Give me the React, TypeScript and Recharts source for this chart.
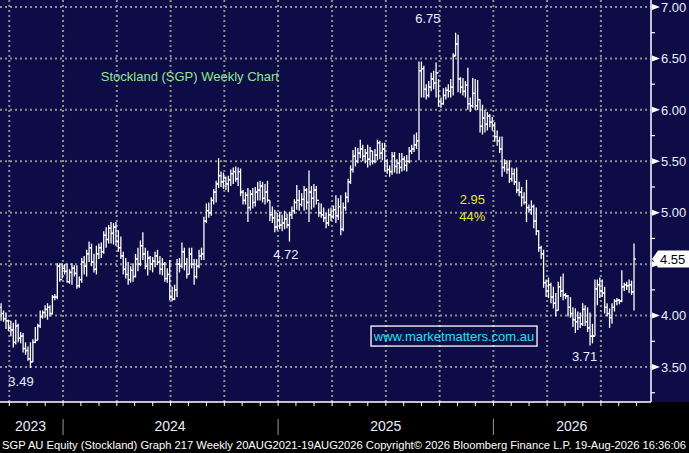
import { ComposedChart, Bar, XAxis, YAxis, CartesianGrid, ReferenceDot } from "recharts";

/* ── weekly OHLC (left → right) ── */
const OPEN = [
  4.08, 4.02, 3.97, 3.95, 3.88, 3.86, 3.74, 3.90, 3.78, 3.80,
  3.68, 3.66, 3.58, 3.55, 3.74, 3.76, 3.90, 3.99, 4.03, 4.06,
  4.08, 4.02, 4.18, 4.18, 4.48, 4.35, 4.46, 4.43, 4.33, 4.42,
  4.46, 4.41, 4.29, 4.35, 4.52, 4.48, 4.60, 4.66, 4.52, 4.45,
  4.60, 4.66, 4.62, 4.78, 4.74, 4.85, 4.80, 4.86, 4.72, 4.66,
  4.58, 4.45, 4.40, 4.35, 4.44, 4.38, 4.55, 4.50, 4.68, 4.60,
  4.48, 4.56, 4.50, 4.53, 4.58, 4.52, 4.45, 4.50, 4.36, 4.40,
  4.18, 4.16, 4.25, 4.50, 4.48, 4.62, 4.50, 4.40, 4.60, 4.50,
  4.38, 4.48, 4.58, 4.60, 4.92, 5.02, 5.00, 5.12, 5.20, 5.28,
  5.36, 5.30, 5.34, 5.28, 5.32, 5.38, 5.40, 5.33, 5.40, 5.20,
  5.12, 5.17, 5.05, 5.18, 5.10, 5.20, 5.22, 5.26, 5.14, 5.20,
  5.12, 4.98, 4.95, 4.86, 4.93, 4.88, 4.90, 4.94, 4.88, 4.98,
  5.02, 5.10, 5.12, 5.08, 5.13, 5.22, 5.10, 5.20, 5.14, 5.22,
  5.12, 5.00, 4.98, 4.95, 4.90, 4.98, 4.96, 5.03, 4.97, 5.06,
  4.84, 5.05, 5.15, 5.30, 5.42, 5.55, 5.50, 5.58, 5.62, 5.55,
  5.58, 5.52, 5.60, 5.50, 5.56, 5.68, 5.58, 5.62, 5.50, 5.42,
  5.40, 5.55, 5.45, 5.48, 5.44, 5.52, 5.46, 5.50, 5.60, 5.62,
  5.66, 5.70, 6.38, 6.40, 6.20, 6.14, 6.22, 6.30, 6.26, 6.36,
  6.08, 6.06, 6.14, 6.19, 6.18, 6.22, 6.53, 6.64, 6.30, 6.22,
  6.18, 6.24, 6.06, 6.04, 6.16, 6.04, 6.10, 5.84, 5.92, 5.86,
  5.94, 5.88, 5.85, 5.74, 5.70, 5.62, 5.44, 5.48, 5.42, 5.33,
  5.38, 5.30, 5.22, 5.20, 5.15, 5.10, 5.05, 5.03, 5.06, 4.92,
  4.82, 4.66, 4.60, 4.32, 4.24, 4.30, 4.18, 4.12, 4.05, 4.28,
  4.24, 4.20, 4.19, 4.08, 4.02, 3.96, 3.94, 3.98, 3.92, 4.06,
  3.94, 3.88, 3.80, 3.80, 4.26, 4.30, 4.24, 4.22, 4.08, 4.02,
  3.98, 4.08, 4.14, 4.15, 4.14, 4.28, 4.30, 4.29, 4.30, 4.23,
];

const HIGH = [
  4.12, 4.05, 4.03, 3.96, 3.95, 3.93, 3.96, 3.92, 3.84, 3.83,
  3.74, 3.70, 3.74, 3.77, 3.89, 3.92, 4.05, 4.05, 4.10, 4.12,
  4.10, 4.20, 4.21, 4.51, 4.51, 4.51, 4.50, 4.51, 4.45, 4.51,
  4.49, 4.49, 4.38, 4.56, 4.58, 4.64, 4.72, 4.70, 4.60, 4.68,
  4.70, 4.71, 4.82, 4.86, 4.88, 4.91, 4.90, 4.91, 4.83, 4.77,
  4.62, 4.56, 4.52, 4.48, 4.51, 4.60, 4.66, 4.73, 4.81, 4.66,
  4.63, 4.58, 4.57, 4.62, 4.64, 4.58, 4.56, 4.52, 4.46, 4.54,
  4.28, 4.30, 4.55, 4.56, 4.71, 4.66, 4.56, 4.66, 4.66, 4.55,
  4.55, 4.64, 4.66, 4.96, 5.09, 5.10, 5.15, 5.23, 5.31, 5.53,
  5.40, 5.39, 5.35, 5.36, 5.42, 5.44, 5.45, 5.44, 5.43, 5.22,
  5.20, 5.24, 5.22, 5.24, 5.25, 5.30, 5.31, 5.30, 5.28, 5.31,
  5.12, 5.06, 5.03, 5.00, 5.01, 4.98, 5.02, 4.99, 5.01, 5.06,
  5.13, 5.27, 5.22, 5.19, 5.26, 5.24, 5.41, 5.26, 5.28, 5.26,
  5.10, 5.09, 5.05, 5.00, 5.04, 5.05, 5.07, 5.17, 5.14, 5.17,
  5.10, 5.20, 5.33, 5.46, 5.61, 5.64, 5.63, 5.71, 5.66, 5.62,
  5.66, 5.64, 5.60, 5.62, 5.71, 5.70, 5.68, 5.68, 5.52, 5.46,
  5.59, 5.59, 5.52, 5.58, 5.58, 5.55, 5.56, 5.64, 5.66, 5.76,
  5.78, 6.47, 6.47, 6.43, 6.25, 6.28, 6.36, 6.38, 6.46, 6.30,
  6.12, 6.21, 6.22, 6.25, 6.30, 6.55, 6.75, 6.73, 6.32, 6.31,
  6.28, 6.41, 6.12, 6.31, 6.30, 6.29, 6.10, 6.05, 6.00, 5.98,
  5.96, 5.93, 5.88, 5.80, 5.74, 5.74, 5.52, 5.51, 5.51, 5.44,
  5.43, 5.44, 5.30, 5.25, 5.20, 5.32, 5.08, 5.12, 5.08, 5.05,
  4.83, 4.68, 4.64, 4.35, 4.37, 4.32, 4.28, 4.22, 4.33, 4.38,
  4.41, 4.22, 4.20, 4.18, 4.08, 4.07, 4.04, 4.03, 4.12, 4.10,
  4.08, 4.03, 3.92, 4.35, 4.35, 4.37, 4.35, 4.28, 4.12, 4.07,
  4.12, 4.16, 4.17, 4.16, 4.44, 4.32, 4.33, 4.35, 4.34, 4.70,
];

const LOW = [
  3.95, 3.94, 3.87, 3.85, 3.80, 3.69, 3.72, 3.74, 3.73, 3.64,
  3.62, 3.56, 3.49, 3.55, 3.73, 3.76, 3.88, 3.97, 3.98, 3.96,
  3.99, 4.01, 4.15, 4.16, 4.33, 4.36, 4.40, 4.32, 4.31, 4.30,
  4.38, 4.26, 4.27, 4.32, 4.40, 4.38, 4.52, 4.48, 4.42, 4.40,
  4.55, 4.56, 4.60, 4.66, 4.70, 4.70, 4.69, 4.68, 4.62, 4.55,
  4.40, 4.36, 4.30, 4.32, 4.33, 4.37, 4.43, 4.48, 4.54, 4.45,
  4.39, 4.44, 4.42, 4.47, 4.49, 4.40, 4.39, 4.33, 4.32, 4.15,
  4.14, 4.15, 4.18, 4.42, 4.46, 4.44, 4.36, 4.40, 4.46, 4.30,
  4.36, 4.46, 4.54, 4.54, 4.90, 4.95, 4.97, 5.08, 5.10, 5.24,
  5.25, 5.23, 5.22, 5.20, 5.26, 5.28, 5.30, 5.26, 5.16, 5.08,
  5.08, 4.91, 5.02, 5.04, 5.06, 5.12, 5.12, 5.10, 5.08, 5.10,
  4.92, 4.90, 4.81, 4.83, 4.84, 4.82, 4.84, 4.85, 4.72, 4.94,
  4.99, 5.03, 5.02, 5.06, 5.02, 5.03, 4.91, 5.03, 5.05, 5.08,
  4.96, 4.95, 4.91, 4.85, 4.87, 4.92, 4.94, 4.90, 4.93, 4.78,
  4.82, 5.02, 5.10, 5.28, 5.39, 5.45, 5.48, 5.53, 5.50, 5.48,
  5.44, 5.46, 5.47, 5.48, 5.51, 5.52, 5.51, 5.40, 5.38, 5.35,
  5.37, 5.39, 5.38, 5.38, 5.40, 5.41, 5.40, 5.48, 5.57, 5.59,
  5.62, 5.51, 6.12, 6.12, 6.10, 6.12, 6.18, 6.20, 6.12, 6.03,
  6.02, 6.05, 6.10, 6.12, 6.12, 6.14, 6.52, 6.17, 6.16, 6.14,
  6.12, 6.00, 5.98, 6.02, 6.00, 6.00, 5.78, 5.76, 5.78, 5.80,
  5.83, 5.80, 5.69, 5.65, 5.58, 5.35, 5.40, 5.38, 5.29, 5.30,
  5.27, 5.19, 5.16, 5.06, 5.08, 4.91, 5.00, 4.98, 4.85, 4.78,
  4.62, 4.55, 4.27, 4.18, 4.17, 4.12, 4.07, 3.99, 4.05, 4.18,
  4.15, 4.16, 3.99, 3.98, 3.89, 3.83, 3.86, 3.88, 3.90, 3.90,
  3.84, 3.71, 3.73, 3.80, 4.10, 4.17, 4.18, 4.02, 3.99, 3.88,
  3.92, 4.04, 4.10, 4.11, 4.13, 4.24, 4.25, 4.22, 4.20, 4.05,
];

const CLOSE = [
  4.02, 3.97, 3.95, 3.88, 3.86, 3.74, 3.90, 3.78, 3.80, 3.68,
  3.66, 3.58, 3.55, 3.74, 3.76, 3.90, 3.99, 4.03, 4.06, 4.08,
  4.02, 4.18, 4.18, 4.48, 4.35, 4.46, 4.43, 4.33, 4.42, 4.46,
  4.41, 4.29, 4.35, 4.52, 4.48, 4.60, 4.66, 4.52, 4.45, 4.60,
  4.66, 4.62, 4.78, 4.74, 4.85, 4.80, 4.86, 4.72, 4.66, 4.58,
  4.45, 4.40, 4.35, 4.44, 4.38, 4.55, 4.50, 4.68, 4.60, 4.48,
  4.56, 4.50, 4.53, 4.58, 4.52, 4.45, 4.50, 4.36, 4.40, 4.18,
  4.16, 4.25, 4.50, 4.48, 4.62, 4.50, 4.40, 4.60, 4.50, 4.38,
  4.48, 4.58, 4.60, 4.92, 5.02, 5.00, 5.12, 5.20, 5.28, 5.36,
  5.30, 5.34, 5.28, 5.32, 5.38, 5.40, 5.33, 5.40, 5.20, 5.12,
  5.17, 5.05, 5.18, 5.10, 5.20, 5.22, 5.26, 5.14, 5.20, 5.12,
  4.98, 4.95, 4.86, 4.93, 4.88, 4.90, 4.94, 4.88, 4.98, 5.02,
  5.10, 5.12, 5.08, 5.13, 5.22, 5.10, 5.20, 5.14, 5.22, 5.12,
  5.00, 4.98, 4.95, 4.90, 4.98, 4.96, 5.03, 4.97, 5.06, 4.84,
  5.05, 5.15, 5.30, 5.42, 5.55, 5.50, 5.58, 5.62, 5.55, 5.58,
  5.52, 5.60, 5.50, 5.56, 5.68, 5.58, 5.62, 5.50, 5.42, 5.40,
  5.55, 5.45, 5.48, 5.44, 5.52, 5.46, 5.50, 5.60, 5.62, 5.66,
  5.70, 6.38, 6.40, 6.20, 6.14, 6.22, 6.30, 6.26, 6.36, 6.08,
  6.06, 6.14, 6.19, 6.18, 6.22, 6.52, 6.64, 6.30, 6.22, 6.18,
  6.24, 6.06, 6.04, 6.16, 6.04, 6.10, 5.84, 5.92, 5.86, 5.94,
  5.88, 5.85, 5.74, 5.70, 5.62, 5.44, 5.48, 5.42, 5.33, 5.38,
  5.30, 5.22, 5.20, 5.15, 5.10, 5.05, 5.03, 5.06, 4.92, 4.82,
  4.66, 4.60, 4.32, 4.24, 4.30, 4.18, 4.12, 4.05, 4.28, 4.24,
  4.20, 4.19, 4.08, 4.02, 3.96, 3.94, 3.98, 3.92, 4.06, 3.94,
  3.88, 3.80, 3.80, 4.26, 4.30, 4.24, 4.22, 4.08, 4.02, 3.98,
  4.08, 4.14, 4.15, 4.14, 4.28, 4.30, 4.29, 4.30, 4.23, 4.55,
];

const LAST_PRICE = 4.55;

/* ── axes ── */
const PRICE_MAJOR = [3.5, 4.0, 4.5, 5.0, 5.5, 6.0, 6.5, 7.0];
const PRICE_MINOR = [3.25, 3.75, 4.25, 4.75, 5.25, 5.75, 6.25, 6.75];
const X_GRID = [3.3, 25.3, 47.3, 69.3, 91.3, 113.3, 135.4, 157.4, 179.4, 201.4, 223.4, 245.4];
const MONTH_TICKS = [
  3.3, 10.6, 18.0, 25.3, 32.6, 40.0, 47.3, 54.6, 62.0, 69.3, 76.6, 84.0,
  91.3, 98.6, 106.0, 113.3, 120.6, 128.0, 135.4, 142.7, 150.0, 157.4, 164.7, 172.0,
  179.4, 186.7, 194.0, 201.4, 208.7, 216.0, 223.4, 230.7, 238.0, 245.4, 252.7, 260.0,
];
const YEAR_LABELS = ["2023", "2024", "2025", "2026"];
const YEAR_MID = [12.0, 69.1, 157.4, 233.5];
const YEAR_START = [25.3, 113.3, 201.4];

/* ── annotations (data units) ── */
const NOTES = [
  { text: "Stockland (SGP) Weekly Chart", x: 77.2, y: 6.33, color: "#8ee98e" },
  { text: "6.75", x: 174.6, y: 6.893, color: "#e8eeff" },
  { text: "4.72", x: 116.5, y: 4.6, color: "#e8eeff" },
  { text: "3.49", x: 8.1, y: 3.359, color: "#e8eeff" },
  { text: "3.71", x: 238.7, y: 3.607, color: "#e8eeff" },
  { text: "2.95", x: 192.8, y: 5.129, color: "#e6e628" },
  { text: "44%", x: 192.8, y: 4.968, color: "#e6e628" },
];
const SITE = { text: "www.marketmatters.com.au", x: 185.3, y: 3.801 };

const FOOTER =
  "SGP AU Equity (Stockland) Graph 217 Weekly 20AUG2021-19AUG2026 Copyright\u00A9 2026 Bloomberg Finance L.P. 19-Aug-2026 16:36:06";

const NAVY = "#0e0c46";
const FONT = "'Liberation Sans', Arial, sans-serif";

const rows = HIGH.map((h, i) => ({
  i,
  span: [LOW[i], h],
  open: OPEN[i],
  close: CLOSE[i],
}));

function OhlcBar(props: any) {
  const { x, y, width, height, payload } = props;
  if (payload == null || height == null) return null;
  const [lo, hi] = payload.span;
  const top = Math.min(y, y + height);
  const h = Math.abs(height);
  const cx = x + width / 2;
  const at = (v: number) => top + ((hi - v) / (hi - lo)) * h;
  const yo = at(payload.open);
  const yc = at(payload.close);
  return (
    <g stroke="#ffffff" strokeWidth={1.3}>
      <line x1={cx} x2={cx} y1={top} y2={top + h} />
      <line x1={cx - 2} x2={cx} y1={yo} y2={yo} />
      <line x1={cx} x2={cx + 2} y1={yc} y2={yc} />
    </g>
  );
}

function PriceTick(props: any) {
  const { x, y, payload } = props;
  const v = payload.value;
  if (v === LAST_PRICE) {
    return (
      <g>
        <polygon
          points={`${x + 1},${y} ${x + 7},${y - 8.5} ${x + 38},${y - 8.5} ${x + 38},${y + 8.5} ${x + 7},${y + 8.5}`}
          fill="#ffffff"
        />
        <text x={x + 9} y={y} dy="0.36em" fill="#000" fontSize={13} fontFamily={FONT}>
          {v.toFixed(2)}
        </text>
      </g>
    );
  }
  if (PRICE_MAJOR.includes(v)) {
    // the last-price flag covers the label next to it, as in the original
    const hidden = Math.abs(v - LAST_PRICE) < 0.1;
    return (
      <g>
        <polygon points={`${x + 1},${y - 3} ${x + 9},${y} ${x + 1},${y + 3}`} fill="#ffffff" />
        {!hidden && (
          <text x={x + 10} y={y} dy="0.36em" fill="#e8eeff" fontSize={13} fontFamily={FONT}>
            {v.toFixed(2)}
          </text>
        )}
      </g>
    );
  }
  return <line x1={x} x2={x + 4} y1={y} y2={y} stroke="#ffffff" strokeWidth={1.2} />;
}

function YearTick(props: any) {
  const { x, y, payload } = props;
  const v = payload.value;
  const k = YEAR_MID.indexOf(v);
  if (k >= 0) {
    return (
      <text x={x} y={y + 16} dy="0.36em" textAnchor="middle" fill="#e8eeff" fontSize={14} fontFamily={FONT}>
        {YEAR_LABELS[k]}
      </text>
    );
  }
  return <line x1={x} x2={x} y1={y + 9} y2={y + 25} stroke="#9a9a9a" strokeWidth={1} />;
}

function NoteLabel({ viewBox, text, color }: any) {
  const { x, y } = viewBox;
  return (
    <text x={x} y={y} dy="0.36em" textAnchor="middle" fill={color} fontSize={13} fontFamily={FONT}>
      {text}
    </text>
  );
}

function SiteLabel({ viewBox }: any) {
  const { x, y } = viewBox;
  return (
    <g>
      <rect x={x - 83} y={y - 10} width={166} height={20} fill="none" stroke="#ffffff" strokeWidth={1.3} />
      <text x={x} y={y} dy="0.36em" textAnchor="middle" fill="#22e2ea" fontSize={13} fontFamily={FONT}>
        {SITE.text}
      </text>
    </g>
  );
}

export default function App() {
  return (
    <div style={{ position: "absolute", left: 0, top: 0, width: 689, height: 453, background: "#000", overflow: "hidden", fontFamily: FONT }}>
      <div style={{ position: "absolute", left: 0, top: 0, width: 689, height: 402, background: NAVY }} />
      <div style={{ position: "absolute", left: 0, top: 0 }}>
        <ComposedChart width={689} height={438} data={rows} margin={{ top: 0, right: 0, bottom: 0, left: 0 }}>
          <CartesianGrid
            horizontalValues={PRICE_MAJOR}
            verticalValues={X_GRID}
            stroke="#8e8e8e"
            strokeWidth={2}
            strokeDasharray="2 3"
          />
          <XAxis
            dataKey="i"
            type="number"
            domain={[-0.5, 265.9]}
            allowDataOverflow
            ticks={MONTH_TICKS}
            interval={0}
            height={8}
            tickSize={4}
            axisLine={{ stroke: "#ffffff", strokeWidth: 1.5 }}
            tickLine={{ stroke: "#ffffff", strokeWidth: 1 }}
            tick={() => <g />}
          />
          <XAxis
            xAxisId="yr"
            dataKey="i"
            type="number"
            domain={[-0.5, 265.9]}
            allowDataOverflow
            ticks={[...YEAR_MID, ...YEAR_START]}
            interval={0}
            height={28}
            tickSize={0}
            tickMargin={0}
            axisLine={false}
            tickLine={false}
            tick={<YearTick />}
          />
          <YAxis
            orientation="right"
            type="number"
            width={38}
            domain={[3.16, 7.068]}
            allowDataOverflow
            ticks={[...PRICE_MINOR, ...PRICE_MAJOR, LAST_PRICE]}
            interval={0}
            tickSize={0}
            tickMargin={0}
            axisLine={{ stroke: "#ffffff", strokeWidth: 1.5 }}
            tickLine={false}
            tick={<PriceTick />}
          />
          <Bar dataKey="span" barSize={3} shape={OhlcBar} isAnimationActive={false} />
          {NOTES.map((n) => (
            <ReferenceDot
              key={n.text}
              x={n.x}
              y={n.y}
              r={0}
              fill="none"
              stroke="none"
              label={(p: any) => <NoteLabel {...p} text={n.text} color={n.color} />}
            />
          ))}
          <ReferenceDot x={SITE.x} y={SITE.y} r={0} fill="none" stroke="none" label={(p: any) => <SiteLabel {...p} />} />
        </ComposedChart>
      </div>
      <svg style={{ position: "absolute", left: 0, top: 436 }} width={689} height={17}>
        <text x={2} y={12.5} fill="#ffffff" fontSize={11} fontFamily={FONT} textLength={684} lengthAdjust="spacingAndGlyphs">
          {FOOTER}
        </text>
      </svg>
    </div>
  );
}
